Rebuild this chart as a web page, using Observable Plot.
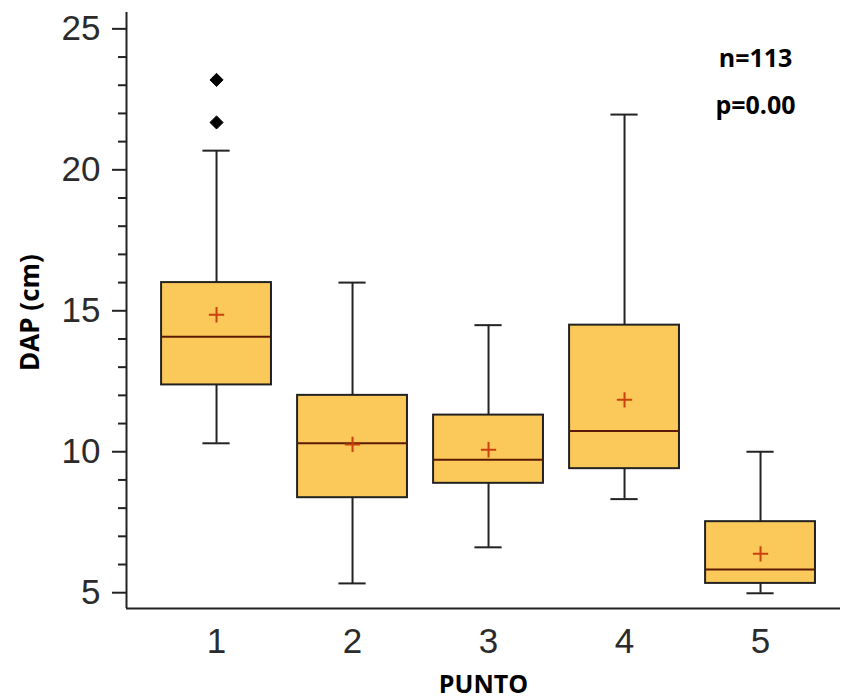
<!DOCTYPE html>
<html><head><meta charset="utf-8">
<script src="https://cdn.jsdelivr.net/npm/d3@7"></script>
<script src="https://cdn.jsdelivr.net/npm/@observablehq/plot@0.6"></script>
<style>body{margin:0;background:#fff} #chart svg{display:block}</style>
</head><body><div id="chart"></div>
<script>
// Data
const puntos      = [1, 2, 3, 4, 5];
const q1          = [12.37, 8.37, 8.88, 9.40, 5.33];
const medians     = [14.08, 10.30, 9.72, 10.74, 5.82];
const q3          = [16.00, 12.00, 11.30, 14.49, 7.52];
const whiskerLow  = [10.30, 5.33, 6.61, 8.32, 4.98];
const whiskerHigh = [20.68, 16.00, 14.49, 21.96, 10.00];
const means       = [14.86, 10.26, 10.07, 11.84, 6.38];
const outlierPunto = [1, 1];
const outlierValue = [23.19, 21.68];
const yTicks = [5, 10, 15, 20, 25];
const yMinor = [6,7,8,9,11,12,13,14,16,17,18,19,21,22,23,24];
const yLabel = "DAP (cm)";
const xLabel = "PUNTO";
const notes = ["n=113", "p=0.00"];

const boxes = puntos.map((p, i) => ({
  punto: p, q1: q1[i], med: medians[i], q3: q3[i],
  lo: whiskerLow[i], hi: whiskerHigh[i], mean: means[i]
}));
const outliers = outlierPunto.map((p, i) => ({punto: p, value: outlierValue[i]}));

const xDomain = [0.338, 5.588];
const yDomain = [4.44, 25.58];
const halfBox = 0.404, halfCap = 0.1;
const ink = "#222";
const tickFont = "Liberation Sans, Arial, sans-serif";
const boldFont = "Open Sans, Lato, sans-serif";

const chart = Plot.plot({
  width: 846, height: 700,
  marginLeft: 126, marginRight: 6, marginTop: 12, marginBottom: 92,
  x: {domain: xDomain},
  y: {domain: yDomain},
  style: {background: "#fff", color: ink, fontFamily: tickFont},
  marks: [
    Plot.ruleX(boxes, {x: "punto", y1: "lo", y2: "hi", stroke: ink, strokeWidth: 2}),
    Plot.ruleY(boxes, {y: "lo", x1: d => d.punto - halfCap, x2: d => d.punto + halfCap, stroke: ink, strokeWidth: 2}),
    Plot.ruleY(boxes, {y: "hi", x1: d => d.punto - halfCap, x2: d => d.punto + halfCap, stroke: ink, strokeWidth: 2}),
    Plot.rect(boxes, {x1: d => d.punto - halfBox, x2: d => d.punto + halfBox, y1: "q1", y2: "q3",
      fill: "#FBC95A", stroke: ink, strokeWidth: 2}),
    Plot.ruleY(boxes, {y: "med", x1: d => d.punto - halfBox, x2: d => d.punto + halfBox, stroke: "#5a1a05", strokeWidth: 2}),
    Plot.dot(boxes, {x: "punto", y: "mean", symbol: "plus", r: 5, stroke: "#c8410f", strokeWidth: 2}),
    Plot.dot(outliers, {x: "punto", y: "value", symbol: "diamond2", r: 5.9, fill: "#000", stroke: "#000", strokeWidth: 1}),
    Plot.axisY(yMinor, {tickSize: 8, fill: "none", stroke: ink, strokeWidth: 2, label: null}),
    Plot.axisY(yTicks, {tickSize: 14, tickPadding: 12, stroke: ink, strokeWidth: 2, label: null,
      fontSize: 35, fill: "#2b2b2b", tickFormat: d => String(d)}),
    Plot.axisX(puntos, {tickSize: 0, tickPadding: 20, label: null, fontSize: 35, fill: "#2b2b2b",
      tickFormat: d => String(d)}),
    Plot.ruleX([xDomain[0]], {y1: yDomain[0], y2: yDomain[1], stroke: ink, strokeWidth: 2}),
    Plot.ruleY([yDomain[0]], {x1: xDomain[0], x2: xDomain[1], stroke: ink, strokeWidth: 2}),
    Plot.text([yLabel], {frameAnchor: "left", dx: -96, dy: 2, rotate: -90, textAnchor: "middle", lineAnchor: "middle",
      fontFamily: boldFont, fontWeight: "bold", fontSize: 26, fill: "#000"}),
    Plot.text([xLabel], {frameAnchor: "bottom", dy: 76, textAnchor: "middle", lineAnchor: "middle",
      fontFamily: boldFont, fontWeight: "bold", fontSize: 25, fill: "#000"}),
    Plot.text([notes[0]], {frameAnchor: "top-right", dx: -85, dy: 46, textAnchor: "middle", lineAnchor: "middle",
      fontFamily: boldFont, fontWeight: "bold", fontSize: 25, fill: "#000"}),
    Plot.text([notes[1]], {frameAnchor: "top-right", dx: -85, dy: 93, textAnchor: "middle", lineAnchor: "middle",
      fontFamily: boldFont, fontWeight: "bold", fontSize: 25, fill: "#000"})
  ]
});
document.getElementById("chart").append(chart);
</script>
</body></html>
